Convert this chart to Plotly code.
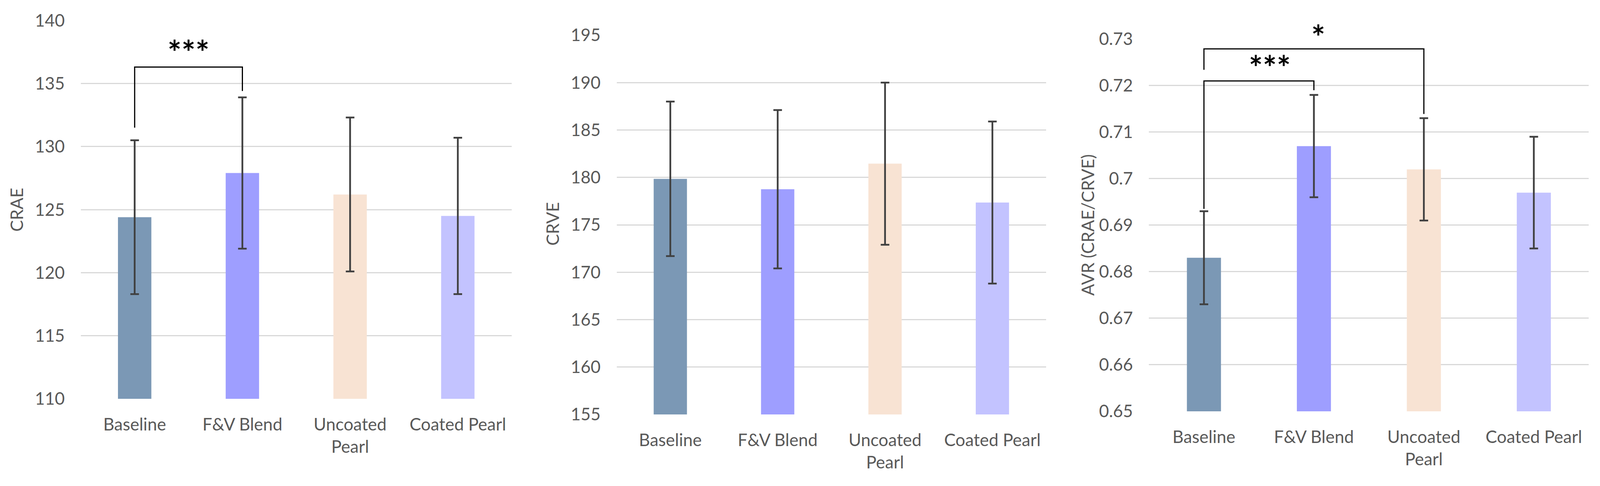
import plotly.graph_objects as go
from plotly.subplots import make_subplots

categories = ["Baseline", "F&V Blend", "Uncoated<br>Pearl", "Coated Pearl"]
bar_colors = ["#7B98B5", "#9E9EFF", "#F8E3D3", "#C3C3FF"]

crae_mean = [124.4, 127.9, 126.2, 124.5]
crae_sd = [6.1, 6.0, 6.1, 6.2]
crve_mean = [179.85, 178.75, 181.45, 177.35]
crve_sd = [8.15, 8.35, 8.55, 8.55]
avr_mean = [0.683, 0.707, 0.702, 0.697]
avr_sd = [0.010, 0.011, 0.011, 0.012]

crae_ticks = [110, 115, 120, 125, 130, 135, 140]
crve_ticks = [155, 160, 165, 170, 175, 180, 185, 190, 195]
avr_ticks = [0.65, 0.66, 0.67, 0.68, 0.69, 0.7, 0.71, 0.72, 0.73]
avr_ticktext = ["0.65", "0.66", "0.67", "0.68", "0.69", "0.7", "0.71", "0.72", "0.73"]

# significance brackets: (panel, from, to, left end, top, right end, stars, star y, star x)
brackets = [
    (1, 0, 1, 131.5, 136.3, 134.4, "***", 137.5, 0.5),
    (3, 0, 1, 0.6935, 0.7210, 0.7190, "***", 0.7240, 0.6),
    (3, 0, 2, 0.7234, 0.7279, 0.7139, "*", 0.7305, 1.04),
]

FONT = "Lato"
GREY = "#595959"

# browser window is capped at 4096 px wide, so lay out in fractions of that
W, H = 4096, 1243
REF_W = 4437

fig = make_subplots(rows=1, cols=3)

panels = [
    (crae_mean, crae_sd, "CRAE", [110, 140], crae_ticks, [str(t) for t in crae_ticks]),
    (crve_mean, crve_sd, "CRVE", [155, 195], crve_ticks, [str(t) for t in crve_ticks]),
    (avr_mean, avr_sd, "AVR (CRAE/CRVE)", [0.65, 0.73], avr_ticks, avr_ticktext),
]
x_domains = [[0.0505, 0.3198], [0.3854, 0.6538], [0.7181, 0.9930]]
y_domains = [[0.1794, 0.958], [0.1472, 0.9276], [0.1537, 0.9196]]
title_pos = [(46, 536), (1532, 573), (3016, 575)]

for i, (mean, sd, title, rng, tv, tt) in enumerate(panels):
    col = i + 1
    fig.add_trace(
        go.Bar(
            x=categories,
            y=mean,
            marker=dict(color=bar_colors, line=dict(width=0)),
            width=0.31,
            error_y=dict(type="data", array=sd, color="#404040", thickness=4.5, width=11),
            showlegend=False,
            hoverinfo="skip",
        ),
        row=1, col=col,
    )
    ax = "" if col == 1 else str(col)
    fig.layout["xaxis" + ax].update(
        domain=x_domains[i], automargin=False,
        showgrid=False, showline=False, zeroline=False, ticks="",
        tickfont=dict(family=FONT, size=44, color=GREY),
        ticklabelstandoff=36,
    )
    fig.layout["yaxis" + ax].update(
        domain=y_domains[i], automargin=False,
        range=rng,
        tickvals=tv, ticktext=tt,
        showgrid=True, gridcolor="#D9D9D9", gridwidth=3,
        showline=False, zeroline=False, ticks="",
        tickfont=dict(family=FONT, size=44, color=GREY),
        ticklabelstandoff=40,
    )
    fig.add_annotation(
        x=title_pos[i][0] / REF_W, y=1 - title_pos[i][1] / H,
        xref="paper", yref="paper", xanchor="center", yanchor="middle",
        text=title, textangle=-90, showarrow=False,
        font=dict(family=FONT, size=44, color=GREY),
    )

for panel, a, b, y_a, y_top, y_b, stars, star_y, star_x in brackets:
    fig.add_trace(
        go.Scatter(
            x=[categories[a], categories[a], categories[b], categories[b]],
            y=[y_a, y_top, y_top, y_b],
            mode="lines",
            line=dict(color="#000000", width=3),
            showlegend=False,
            hoverinfo="skip",
            cliponaxis=False,
        ),
        row=1, col=panel,
    )
    ax = "" if panel == 1 else str(panel)
    lo, hi = panels[panel - 1][3]
    # domain-relative y so a star above the top gridline is still drawn
    fig.add_annotation(
        x=star_x, y=(star_y - lo) / (hi - lo),
        xref="x" + ax, yref="y" + ax + " domain",
        xanchor="center", yanchor="middle",
        text="<b>" + stars + "</b>", showarrow=False,
        font=dict(family=FONT, size=84, color="#000000"),
    )

fig.update_layout(
    width=W, height=H,
    margin=dict(l=0, r=0, t=0, b=0),
    paper_bgcolor="white", plot_bgcolor="white",
)

fig.write_html(
    "out.html",
    config={"displayModeBar": False},
    post_script="document.body.style.margin='0';",
)
